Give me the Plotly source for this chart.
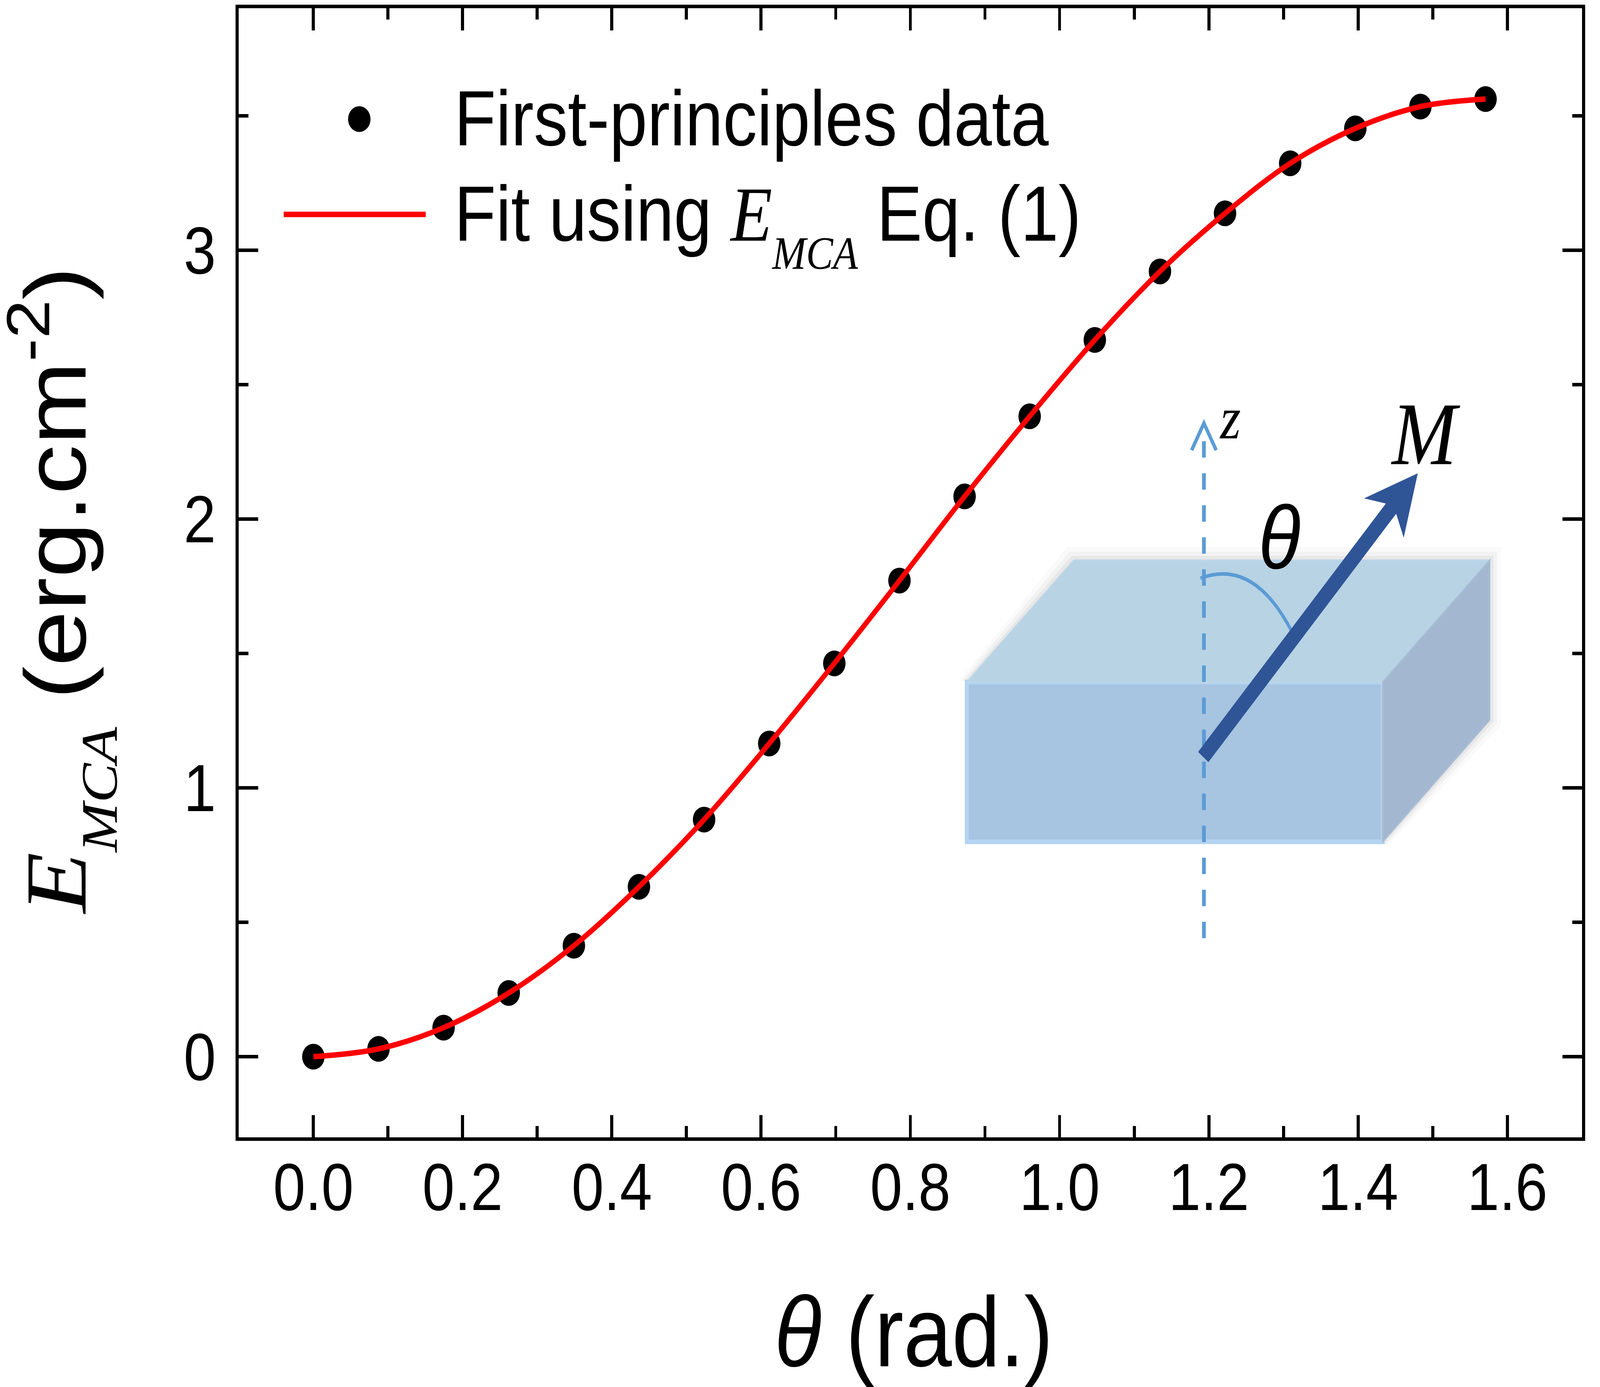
import plotly.graph_objects as go

# first-principles points (theta in rad, E_MCA in erg/cm^2)
theta_rad = [0.0, 0.0873, 0.1745, 0.2618, 0.3491, 0.4363, 0.5236, 0.6109, 0.6981,
             0.7854, 0.8727, 0.9599, 1.0472, 1.1345, 1.2217, 1.3090, 1.3963, 1.4835, 1.5708]
e_mca = [0.0, 0.029, 0.108, 0.237, 0.413, 0.632, 0.882, 1.165, 1.463, 1.771,
         2.084, 2.382, 2.666, 2.921, 3.137, 3.323, 3.453, 3.534, 3.562]

x_ticks = [0.0, 0.2, 0.4, 0.6, 0.8, 1.0, 1.2, 1.4, 1.6]
x_tick_labels = ["0.0", "0.2", "0.4", "0.6", "0.8", "1.0", "1.2", "1.4", "1.6"]
y_ticks = [0, 1, 2, 3]
y_tick_labels = ["0", "1", "2", "3"]

# E_MCA: italic serif E with a smaller, lower italic subscript
E_MCA = ("<span style='font-family:Liberation Serif'><i>E</i><sub>"
         "<span style='font-size:85%;baseline-shift:-0.25em'><i>MCA</i></span></sub></span>")
legend_labels = ["First-principles data", f"Fit using {E_MCA} Eq. (1)"]
x_title = "<i>θ</i> (rad.)"
y_title = f"{E_MCA} (erg.cm<sup>-2</sup>)"

W, H = 4698, 3550
L, R, T, B = 701, 4645, 19, 2911
SANS = "Liberation Sans, Arial, sans-serif"
SERIF = "Liberation Serif, Times New Roman, serif"

# the browser viewport can be smaller than W x H: stretch the figure onto it
FIT_SCRIPT = """
var sx = window.innerWidth / %d, sy = window.innerHeight / %d;
document.documentElement.style.overflow = 'hidden';
document.body.style.margin = '0';
document.body.style.overflow = 'hidden';
var gd = document.getElementsByClassName('plotly-graph-div')[0];
var box = gd.parentElement;
box.style.width = window.innerWidth + 'px';
box.style.height = window.innerHeight + 'px';
box.style.overflow = 'hidden';
gd.style.transformOrigin = '0 0';
gd.style.transform = 'scale(' + sx + ',' + sy + ')';
""" % (W, H)


def px(x):
    return (x - L) / (R - L)


def py(y):
    return (B - y) / (B - T)


def path(points, close=True):
    d = "M" + " L".join(f"{px(x):.5f},{py(y):.5f}" for x, y in points)
    return d + (" Z" if close else "")


def arrow_path(tail, tip, half_shaft=20, neck=120, head=152, half_head=77):
    dx, dy = tip[0] - tail[0], tip[1] - tail[1]
    n = (dx * dx + dy * dy) ** 0.5
    ux, uy = dx / n, dy / n
    nx, ny = -uy, ux

    def at(along, across):
        return (tip[0] + ux * along + nx * across, tip[1] + uy * along + ny * across)

    pts = [
        (tail[0] - nx * half_shaft, tail[1] - ny * half_shaft),
        at(-neck, -half_shaft),
        at(-head, -half_head),
        tip,
        at(-head, half_head),
        at(-neck, half_shaft),
        (tail[0] + nx * half_shaft, tail[1] + ny * half_shaft),
    ]
    return path(pts)


fig = go.Figure()
fig.add_scatter(
    x=theta_rad, y=e_mca, mode="markers",
    marker=dict(size=66, color="black"), showlegend=False,
)
fig.add_scatter(
    x=theta_rad, y=e_mca, mode="lines",
    line=dict(color="#ff0000", width=14, shape="spline", smoothing=1.0), showlegend=False,
)

shapes = []
# inset: slab with a soft shadow
front = [(2839, 1745), (4060, 1745), (4060, 2154), (2839, 2154)]
top = [(2839, 1745), (3153, 1433), (4374, 1433), (4060, 1745)]
side = [(4060, 1745), (4374, 1433), (4374, 1842), (4060, 2154)]
for grow, alpha in [(34, 0.02), (22, 0.03), (11, 0.045)]:
    halo = [(3153 - grow * 0.6, 1433 - grow), (4374 + grow, 1433 - grow),
            (4374 + grow, 1842 + grow * 0.4), (4060 + grow * 0.4, 2154 + grow * 0.3),
            (4060, 2154), (4374, 1842), (4374, 1433), (3153, 1433), (2839, 1745),
            (2839 - grow * 0.6, 1745 - grow * 0.2)]
    shapes.append(dict(type="path", xref="paper", yref="paper", path=path(halo),
                       fillcolor=f"rgba(0,0,0,{alpha})", line=dict(width=0), layer="above"))
shapes.append(dict(type="path", xref="paper", yref="paper", path=path(front),
                   fillcolor="#a7c4e1", line=dict(color="#b4d3f0", width=12), layer="above"))
shapes.append(dict(type="path", xref="paper", yref="paper", path=path(top),
                   fillcolor="#b8d3e4", line=dict(color="#bcd6e8", width=4), layer="above"))
shapes.append(dict(type="path", xref="paper", yref="paper", path=path(side),
                   fillcolor="#a3b8d0", line=dict(color="#a8bdd4", width=4), layer="above"))
# z axis (dashed) with open head
z_blue = "#5b9bd5"
shapes.append(dict(type="line", xref="paper", yref="paper",
                   x0=px(3535), y0=py(2401), x1=px(3535), y1=py(1095),
                   line=dict(color=z_blue, width=11, dash="42px,40px"), layer="above"))
shapes.append(dict(type="path", xref="paper", yref="paper",
                   path=path([(3499, 1151), (3535, 1082), (3571, 1151)], close=False),
                   line=dict(color=z_blue, width=10), layer="above"))
# theta arc
shapes.append(dict(type="path", xref="paper", yref="paper",
                   path=f"M{px(3525):.5f},{py(1479):.5f} Q{px(3680):.5f},{py(1428):.5f} {px(3791):.5f},{py(1612):.5f}",
                   line=dict(color=z_blue, width=9), layer="above"))
# magnetisation arrow
shapes.append(dict(type="path", xref="paper", yref="paper",
                   path=arrow_path((3533, 1937), (4163, 1210)),
                   fillcolor="#2f5597", line=dict(width=0), layer="above"))

# legend (drawn by hand to follow the original placement)
shapes.append(dict(type="circle", xref="paper", yref="paper",
                   x0=px(1055 - 33), x1=px(1055 + 33), y0=py(303 + 33), y1=py(303 - 33),
                   fillcolor="black", line=dict(width=0)))
shapes.append(dict(type="line", xref="paper", yref="paper",
                   x0=px(833), x1=px(1250), y0=py(547), y1=py(547),
                   line=dict(color="#ff0000", width=14)))

annotations = [
    dict(text=legend_labels[0], x=px(1332), y=py(301), xanchor="left", yanchor="middle",
         font=dict(family=SANS, size=200, color="black")),
    dict(text=legend_labels[1], x=px(1332), y=py(573), xanchor="left", yanchor="middle",
         font=dict(family=SANS, size=200, color="black")),
    # axis titles
    dict(text=x_title, x=px(2683), y=py(3409), xanchor="center", yanchor="middle",
         font=dict(family=SANS, size=255, color="black")),
    dict(text=y_title, x=px(179), y=py(1510), xanchor="center", yanchor="middle", textangle=-90,
         font=dict(family=SANS, size=255, color="black")),
    # inset labels
    dict(text="<i>z</i>", x=px(3612), y=py(1069), xanchor="center", yanchor="middle",
         font=dict(family=SERIF, size=155, color="black")),
    dict(text="<i>M</i>", x=px(4186), y=py(1110), xanchor="center", yanchor="middle",
         font=dict(family=SERIF, size=228, color="black")),
    dict(text="<i>θ</i>", x=px(3757), y=py(1375), xanchor="center", yanchor="middle",
         font=dict(family=SANS, size=228, color="black")),
]
for a in annotations:
    a.update(xref="paper", yref="paper", showarrow=False)

axis_common = dict(
    showline=True, linecolor="black", linewidth=9, mirror="ticks",
    ticks="inside", ticklen=57, tickwidth=9, tickcolor="black",
    showgrid=False, zeroline=False,
    tickfont=dict(family=SANS, size=170, color="black"),
)
fig.update_xaxes(
    range=[-0.1, 1.7], tickvals=x_ticks, ticktext=x_tick_labels,
    minor=dict(ticks="inside", ticklen=29, tickwidth=9, tickcolor="black", dtick=0.1, tick0=0),
    ticklabelstandoff=-27, **axis_common,
)
fig.update_yaxes(
    range=[-0.3, 3.9], tickvals=y_ticks, ticktext=y_tick_labels,
    minor=dict(ticks="inside", ticklen=29, tickwidth=9, tickcolor="black", dtick=0.5, tick0=0),
    ticklabelstandoff=24, **axis_common,
)
fig.update_layout(
    width=W, height=H,
    margin=dict(l=L, r=W - R, t=T, b=H - B, pad=0),
    paper_bgcolor="white", plot_bgcolor="white",
    shapes=shapes, annotations=annotations, showlegend=False,
)

fig.write_html("out.html", config={"displayModeBar": False}, post_script=FIT_SCRIPT)
